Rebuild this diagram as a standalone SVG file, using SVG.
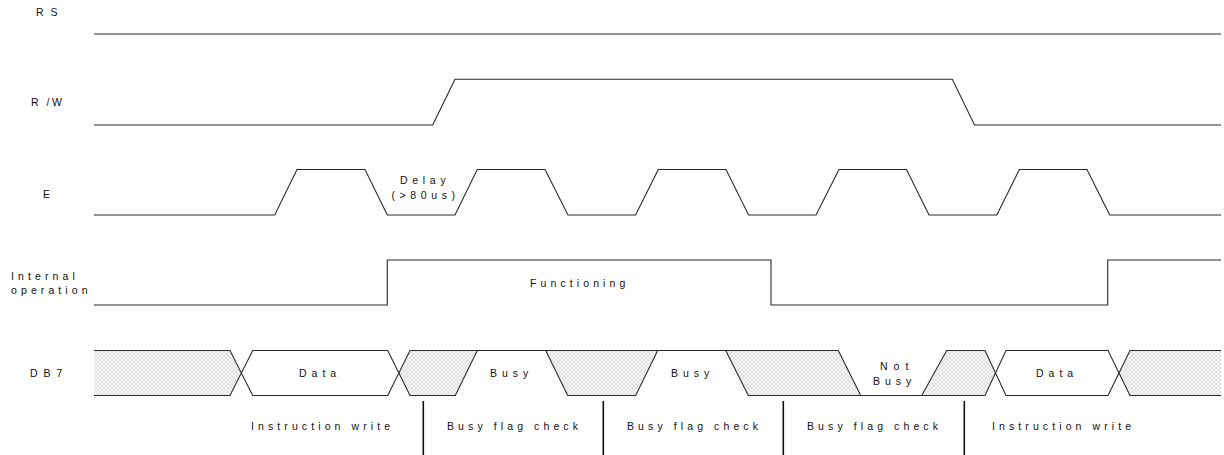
<svg xmlns="http://www.w3.org/2000/svg" width="1224" height="455" viewBox="0 0 1224 455">
<style>
text{font-family:"Liberation Sans",Arial,sans-serif;font-size:10.5px;fill:#111;}
.lbl{letter-spacing:4.1px;}
.wide{letter-spacing:5px;}
.sig{fill:none;stroke:#2a2a2a;stroke-width:1.1;stroke-linejoin:miter;}
.hatch{fill:url(#xh);stroke:none;}
.sep{stroke:#111;stroke-width:1.6;}
</style>
<defs>
<pattern id="xh" width="4" height="4" patternUnits="userSpaceOnUse">
<rect width="4" height="4" fill="#f7f7f7"/>
<path d="M0,0 L4,4 M4,0 L0,4" stroke="#c6c6c6" stroke-width="0.5"/>
</pattern>
</defs>
<rect width="1224" height="455" fill="#fff"/>

<g id="rs">
<text x="36" y="16" style="letter-spacing:7px">RS</text>
<path class="sig" d="M94,34 H1221"/>
</g>

<g id="rw">
<text x="31" y="106" style="letter-spacing:2.5px">R /W</text>
<path class="sig" d="M94,125 H432.7 L455,79.3 H952.3 L974.5,125 H1221"/>
</g>

<g id="e">
<text x="43" y="197.5">E</text>
<path class="sig" d="M94,215 H274.7 L297,169.5 H365 L387.3,215 H455 L477.3,169.5 H545 L568,215 H635.6 L658.3,169.5 H726 L748.6,215 H816 L839,169.5 H906.5 L929,215 H996.8 L1019.4,169.5 H1087 L1109.7,215 H1221"/>
<text x="400" y="183.5" style="letter-spacing:4.7px">Delay</text>
<text x="391.5" y="198.5" style="letter-spacing:4.6px">(&gt;80us)</text>
</g>

<g id="internal">
<text class="lbl" x="11" y="279.5">Internal</text>
<text class="lbl" x="11" y="294">operation</text>
<path class="sig" d="M94,305 H387.3 V260 H771 V305 H1107.7 V260 H1221"/>
<text class="lbl" x="530" y="287">Functioning</text>
</g>

<g id="db7">
<text x="30" y="377" style="letter-spacing:6px">DB7</text>
<polygon class="hatch" points="94,350.5 230,350.5 241.3,373 230,395.5 94,395.5"/>
<polygon class="hatch" points="399,373 410,350.5 477.3,350.5 455.3,395.5 410,395.5"/>
<polygon class="hatch" points="545.7,350.5 657.7,350.5 635.7,395.5 567.7,395.5"/>
<polygon class="hatch" points="725.7,350.5 838.3,350.5 860.7,395.5 748.3,395.5"/>
<polygon class="hatch" points="921.7,395.5 946.7,350.5 985,350.5 995.5,373 985,395.5"/>
<polygon class="hatch" points="1119,373 1130,350.5 1221,350.5 1221,395.5 1130,395.5"/>
<path class="sig" d="M94,350.5 H230 L252.7,395.5 H387.7 L410,350.5 H838.3 L860.7,395.5 H985 L1006,350.5 H1108 L1130,395.5 H1221"/>
<path class="sig" d="M94,395.5 H230 L252.7,350.5 H387.7 L410,395.5 H455.3 L477.3,350.5"/>
<path class="sig" d="M545.7,350.5 L567.7,395.5 H635.7 L657.7,350.5"/>
<path class="sig" d="M725.7,350.5 L748.3,395.5 H860.7"/>
<path class="sig" d="M921.7,395.5 L946.7,350.5 H985 L1006,395.5 H1108 L1130,350.5 H1221"/>
<text class="wide" x="299" y="377">Data</text>
<text class="wide" x="490" y="377">Busy</text>
<text class="wide" x="671" y="377">Busy</text>
<text x="880" y="369.5" style="letter-spacing:6px">Not</text>
<text class="wide" x="873" y="385">Busy</text>
<text class="wide" x="1036" y="377">Data</text>
</g>

<g id="phases">
<text class="lbl" x="251" y="430">Instruction write</text>
<text class="lbl" x="447" y="430">Busy flag check</text>
<text class="lbl" x="627" y="430">Busy flag check</text>
<text class="lbl" x="807" y="430">Busy flag check</text>
<text class="lbl" x="992" y="430">Instruction write</text>
</g>

<g id="connectors">
<line class="sep" x1="423.3" y1="401" x2="423.3" y2="455"/>
<line class="sep" x1="603.3" y1="401" x2="603.3" y2="455"/>
<line class="sep" x1="783.3" y1="401" x2="783.3" y2="455"/>
<line class="sep" x1="964.3" y1="401" x2="964.3" y2="455"/>
</g>
</svg>
